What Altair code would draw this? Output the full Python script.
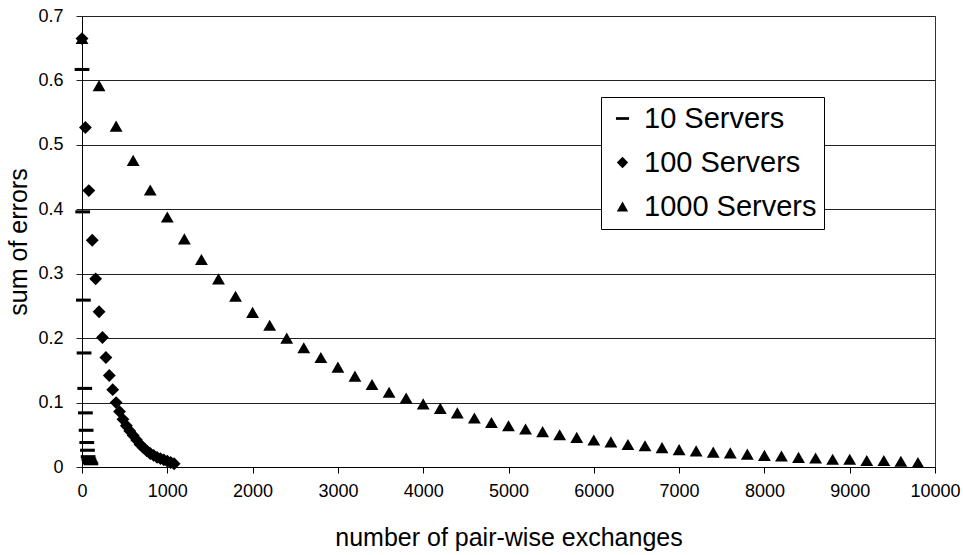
import altair as alt
import pandas as pd

# Series labels (legend order)
series_names = ["10 Servers", "100 Servers", "1000 Servers"]

# 10 servers
x_10 = [0, 8, 16, 24, 32, 40, 48, 56, 64, 72, 80, 88, 96, 104]
err_10 = [0.617, 0.396, 0.259, 0.177, 0.122, 0.084, 0.057, 0.038, 0.026,
          0.016, 0.012, 0.009, 0.007, 0.005]

# 100 servers
x_100 = [0, 40, 80, 120, 160, 200, 240, 280, 320, 360, 400, 440, 480, 520,
         560, 600, 640, 680, 720, 760, 800, 840, 880, 920, 960, 1000, 1040, 1080]
err_100 = [0.665, 0.527, 0.429, 0.352, 0.292, 0.241, 0.201, 0.170, 0.142, 0.120,
           0.100, 0.086, 0.074, 0.064, 0.056, 0.049, 0.042, 0.035, 0.030, 0.025,
           0.021, 0.018, 0.015, 0.013, 0.011, 0.009, 0.007, 0.005]

# 1000 servers
x_1000 = [0, 200, 400, 600, 800, 1000, 1200, 1400, 1600, 1800,
          2000, 2200, 2400, 2600, 2800, 3000, 3200, 3400, 3600, 3800,
          4000, 4200, 4400, 4600, 4800, 5000, 5200, 5400, 5600, 5800,
          6000, 6200, 6400, 6600, 6800, 7000, 7200, 7400, 7600, 7800,
          8000, 8200, 8400, 8600, 8800, 9000, 9200, 9400, 9600, 9800]
err_1000 = [0.665, 0.592, 0.529, 0.476, 0.430, 0.388, 0.354, 0.322, 0.292, 0.265,
            0.240, 0.220, 0.200, 0.185, 0.170, 0.155, 0.141, 0.128, 0.116, 0.107,
            0.098, 0.091, 0.084, 0.076, 0.069, 0.064, 0.059, 0.055, 0.050, 0.046,
            0.042, 0.039, 0.035, 0.033, 0.030, 0.027, 0.025, 0.023, 0.022, 0.020,
            0.018, 0.017, 0.015, 0.014, 0.012, 0.012, 0.010, 0.010, 0.009, 0.007]

# Axis ticks
x_ticks = [0, 1000, 2000, 3000, 4000, 5000, 6000, 7000, 8000, 9000, 10000]
y_ticks = [0, 0.1, 0.2, 0.3, 0.4, 0.5, 0.6, 0.7]

frames = []
for name, xs, ys in [(series_names[0], x_10, err_10),
                     (series_names[1], x_100, err_100),
                     (series_names[2], x_1000, err_1000)]:
    frames.append(pd.DataFrame({"series": name, "exchanges": xs, "error": ys}))
data = pd.concat(frames, ignore_index=True)
data["order"] = range(len(data))

# flat horizontal bar used as the "dash" marker (a bit wider than the unit box)
DASH = "M-1.15,-0.24L1.15,-0.24L1.15,0.24L-1.15,0.24Z"

FONT = "Liberation Sans"

points = alt.Chart(data).mark_point(
    filled=True, opacity=1, color="black", strokeWidth=0, size=165
).encode(
    x=alt.X("exchanges:Q",
            scale=alt.Scale(domain=[0, 10000], nice=False, zero=False),
            axis=alt.Axis(values=x_ticks, format="d", grid=False,
                          title="number of pair-wise exchanges",
                          titleFontSize=25, titleFontWeight="normal", titleColor="black",
                          titleFont=FONT, titleBaseline="alphabetic", titleY=78,
                          labelFontSize=18, labelFont=FONT, labelColor="black",
                          labelPadding=9, tickSize=6, tickColor="black",
                          domainColor="black", labelFlush=False)),
    y=alt.Y("error:Q",
            scale=alt.Scale(domain=[0, 0.7], nice=False),
            axis=alt.Axis(values=y_ticks,
                          labelExpr="datum.value == 0 ? '0' : format(datum.value, '.1f')",
                          grid=True, gridColor="#222", gridWidth=1,
                          title="sum of errors", titleFontSize=25, titleFontWeight="normal",
                          titleColor="black", titleFont=FONT, titleAngle=-90,
                          titleX=-64, titleY=225.5, titleAlign="center", titleBaseline="middle",
                          labelFontSize=18, labelFont=FONT, labelColor="black",
                          labelPadding=13, tickSize=6, tickColor="#222",
                          domainColor="black")),
    shape=alt.Shape("series:N",
                    scale=alt.Scale(domain=series_names, range=[DASH, "diamond", "triangle-up"]),
                    legend=alt.Legend(title=None, orient="none", legendX=519, legendY=81,
                                      direction="vertical",
                                      labelFontSize=29, labelFont=FONT, labelColor="black",
                                      labelLimit=0,
                                      symbolSize=130, symbolFillColor="black",
                                      symbolStrokeColor="black", symbolStrokeWidth=0,
                                      fillColor="white", strokeColor="black",
                                      padding=7, rowPadding=14, labelOffset=7,
                                      cornerRadius=0)),
    order=alt.Order("order:Q"),
)

chart = points.properties(
    width=853,
    height=451,
    autosize=alt.AutoSizeParams(type="none"),
    padding={"left": 82, "top": 16, "right": 28, "bottom": 88},
    background="white",
).configure_view(
    stroke="#333",
    strokeWidth=1,
)

chart.save("out.html", embed_options={"renderer": "svg", "actions": False})
